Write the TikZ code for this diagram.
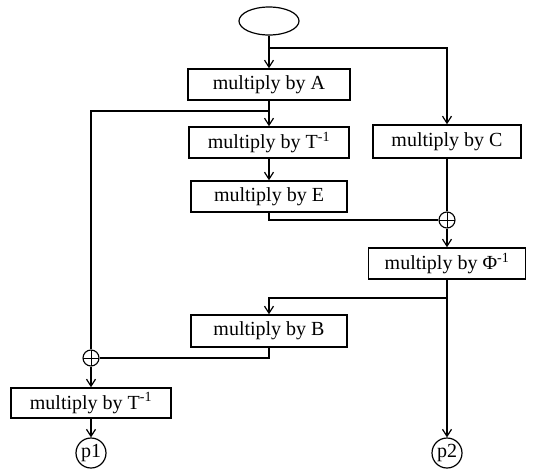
\documentclass[tikz,border=0pt]{standalone}
\usepackage{fontspec}
\setmainfont{Liberation Serif}
\usetikzlibrary{arrows.meta,shapes.geometric}
\tikzset{mulbox/.style={draw,line width=1.5pt,minimum height=31pt,inner sep=0pt}}
\tikzset{sumnode/.style={draw,circle,line width=1.1pt,minimum size=16pt,inner sep=0pt,
  path picture={\draw[line width=0.9pt] (path picture bounding box.north) -- (path picture bounding box.south)
    (path picture bounding box.west) -- (path picture bounding box.east);}}}
\tikzset{outnode/.style={draw,circle,line width=1.2pt,minimum size=30pt,inner sep=0pt}}
\tikzset{flow/.style={line width=1.2pt,-{Straight Barb[length=7pt,width=9pt]}}}
\tikzset{wire/.style={line width=1.2pt}}

\begin{document}
\begin{tikzpicture}[x=1pt,y=-1pt,font=\fontsize{20}{24}\selectfont]
      \useasboundingbox (0,0) rectangle (536,469);
      \node [draw,ellipse,line width=1.2pt,minimum width=60pt,minimum height=28pt,inner sep=0pt] (start) at (269,21) {};
      \node [mulbox,minimum width=162pt] (mulA) at (269,84.5) {multiply by A};
      \node [mulbox,minimum width=160pt] (mulTa) at (269,142.5) {multiply by T\textsuperscript{-1}};
      \node [mulbox,minimum width=156pt] (mulE) at (269,196.5) {multiply by E};
      \node [mulbox,minimum width=148pt,minimum height=33pt] (mulC) at (447,141.5) {multiply by C};
      \node [sumnode] (sumR) at (447,220) {};
      \node [mulbox,minimum width=157pt] (mulPhi) at (447,263.5) {multiply by Φ\textsuperscript{-1}};
      \node [mulbox,minimum width=156pt,minimum height=32pt] (mulB) at (269,331) {multiply by B};
      \node [sumnode] (sumL) at (91,358) {};
      \node [mulbox,minimum width=160pt,minimum height=30pt] (mulTb) at (91,403) {multiply by T\textsuperscript{-1}};
      \node [outnode] (p1) at (91,453) {p1};
      \node [outnode] (p2) at (447,453) {p2};
      \coordinate (splitA) at (269,48);
      \coordinate (splitT) at (269,111);
      \coordinate (splitPhi) at (447,298);
      % main column
      \draw [flow] (start) -- (mulA);
      \draw [flow] (mulA) -- (mulTa);
      \draw [flow] (mulTa) -- (mulE);
      \draw [wire] (mulE.south) |- (sumR.west);
      % right column
      \draw [flow] (splitA) -| (mulC.north);
      \draw [wire] (mulC) -- (sumR);
      \draw [flow] (sumR) -- (mulPhi);
      \draw [flow] (mulPhi) -- (p2);
      \draw [flow] (splitPhi) -| (mulB.north);
      % left column
      \draw [wire] (splitT) -| (sumL.north);
      \draw [wire] (mulB.south) |- (sumL.east);
      \draw [flow] (sumL) -- (mulTb);
      \draw [flow] (mulTb) -- (p1);
    \end{tikzpicture}
\end{document}
